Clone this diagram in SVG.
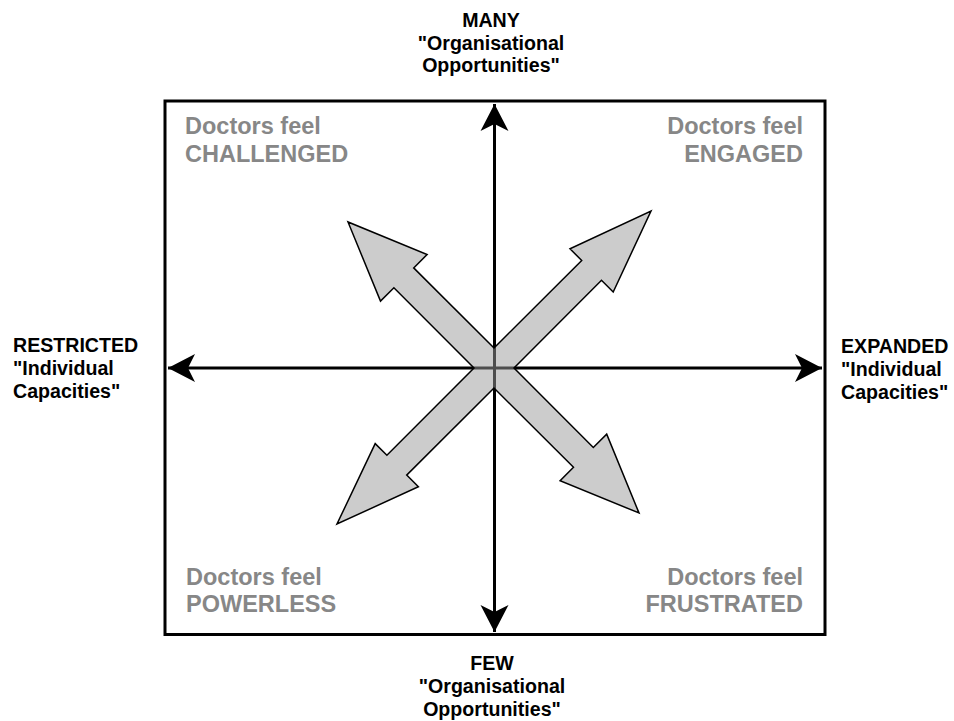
<svg xmlns="http://www.w3.org/2000/svg" width="954" height="721" viewBox="0 0 954 721">
<style>
.lbl{font-family:"Liberation Sans",Arial,sans-serif;font-weight:bold;font-size:19.6px;fill:#000}
.q{font-family:"Liberation Sans",Arial,sans-serif;font-weight:bold;font-size:23.5px;fill:#878787}
.axis{stroke:#000;stroke-width:3;fill:none}
</style>
<defs>
<marker id="ah" markerUnits="userSpaceOnUse" viewBox="-28 -15 30 30" refX="0" refY="0" markerWidth="30" markerHeight="30" orient="auto-start-reverse">
<path d="M0,0 L-27,-14 L-20,0 L-27,14 Z" fill="#000"/>
</marker>
</defs>
<rect width="954" height="721" fill="#fff"/>
<g id="frame">
<rect x="165" y="101" width="660" height="533.5" fill="none" stroke="#000" stroke-width="3"/>
</g>
<g id="connectors">
<line class="axis" x1="494.5" y1="104" x2="494.5" y2="632" marker-start="url(#ah)" marker-end="url(#ah)"/>
<line class="axis" x1="168" y1="368" x2="822" y2="368" marker-start="url(#ah)" marker-end="url(#ah)"/>
</g>
<g id="cross-arrows">
<polygon points="494,348 581.7,260.5 570,248.8 651,211 613.2,292 601.5,280.3 514,368 593.3,447.5 606.7,434.1 639,513 560.1,480.7 573.5,467.3 494,388 406.7,475.1 418.4,486.8 337,524 375.2,443.6 386.9,455.3 474,368 393.9,287.7 380.5,301.1 348,222 427.1,254.5 413.7,267.9" fill="#999" fill-opacity="0.5" stroke="#000" stroke-width="1.5" stroke-linejoin="miter"/>
</g>
<g id="label-top">
<text class="lbl" text-anchor="middle"><tspan x="491" y="27">MANY</tspan><tspan x="491" y="49.5">"Organisational</tspan><tspan x="491" y="72">Opportunities"</tspan></text>
</g>
<g id="label-bottom">
<text class="lbl" text-anchor="middle"><tspan x="492" y="670">FEW</tspan><tspan x="492" y="693">"Organisational</tspan><tspan x="492" y="716">Opportunities"</tspan></text>
</g>
<g id="label-left">
<text class="lbl"><tspan x="13" y="352">RESTRICTED</tspan><tspan x="13" y="375">"Individual</tspan><tspan x="13" y="398">Capacities"</tspan></text>
</g>
<g id="label-right">
<text class="lbl"><tspan x="841" y="353">EXPANDED</tspan><tspan x="841" y="376">"Individual</tspan><tspan x="841" y="399">Capacities"</tspan></text>
</g>
<g id="quadrant-challenged">
<text class="q"><tspan x="185" y="134">Doctors feel</tspan><tspan x="185" y="162">CHALLENGED</tspan></text>
</g>
<g id="quadrant-engaged">
<text class="q" text-anchor="end"><tspan x="803" y="134">Doctors feel</tspan><tspan x="803" y="162">ENGAGED</tspan></text>
</g>
<g id="quadrant-powerless">
<text class="q"><tspan x="186" y="585">Doctors feel</tspan><tspan x="186" y="612">POWERLESS</tspan></text>
</g>
<g id="quadrant-frustrated">
<text class="q" text-anchor="end"><tspan x="803" y="585">Doctors feel</tspan><tspan x="803" y="612">FRUSTRATED</tspan></text>
</g>
</svg>
